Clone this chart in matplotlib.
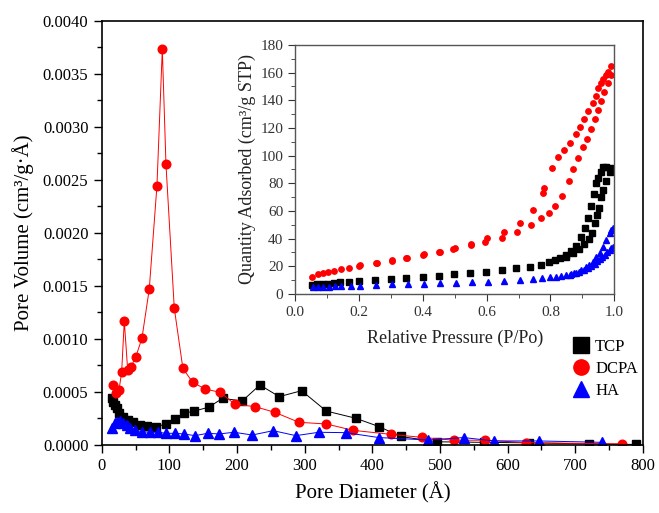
import matplotlib
matplotlib.use("Agg")
import matplotlib.pyplot as plt
from matplotlib.ticker import MultipleLocator, FormatStrFormatter

plt.rcParams['font.family'] = ['Liberation Serif', 'DejaVu Serif']
plt.rcParams['mathtext.fontset'] = 'stix'

# Pore size distribution (BJH) -- diameter in Angstrom, pore volume in cm3/g.A
tcp_d = [15.7, 17.2, 19.6, 22.0, 25.6, 32.0, 39.4, 46.7, 56.6, 66.5, 81.0, 95.0,
         109.0, 121.6, 136.8, 158.0, 178.7, 207.7, 233.8, 262.4, 295.4, 332.0,
         375.6, 410.0, 442.0, 495.0, 565.0, 632.0, 720.0, 790.0]
tcp_v = [0.00044, 0.000408, 0.00038, 0.00035, 0.0003, 0.000267, 0.000236, 0.00022,
         0.000189, 0.000179, 0.000173, 0.000198, 0.000242, 0.000299, 0.00032,
         0.000356, 0.00044, 0.000415, 0.000566, 0.000456, 0.000512, 0.00032,
         0.000252, 0.000173, 0.00008, 0.00003, 0.000025, 0.00002, 0.00001, 0.000005]

dcpa_d = [17.0, 20.7, 25.6, 29.5, 33.4, 38.4, 43.3, 50.2, 59.5, 70.3, 81.7, 89.6,
          95.0, 107.3, 120.0, 134.4, 153.0, 174.7, 197.0, 226.4, 256.0, 291.4,
          332.0, 371.7, 428.0, 472.7, 520.4, 567.0, 627.7, 769.0]
dcpa_v = [0.000566, 0.000488, 0.000519, 0.000686, 0.00117, 0.000708, 0.000739,
          0.000827, 0.001007, 0.00147, 0.002447, 0.003736, 0.002648, 0.00129,
          0.000723, 0.000591, 0.000528, 0.000497, 0.000384, 0.000362, 0.000308,
          0.000214, 0.000198, 0.000138, 0.0001, 0.000072, 0.000045, 0.000045,
          0.000022, 0.00001]

ha_d = [15.7, 19.6, 23.0, 27.0, 32.0, 37.4, 41.8, 49.0, 59.0, 71.3, 83.6, 95.0,
        108.0, 121.6, 137.8, 156.5, 173.7, 195.4, 222.5, 253.5, 287.0, 321.0,
        361.0, 409.6, 482.5, 535.0, 579.5, 646.4, 739.5]
ha_v = [0.000157, 0.000205, 0.00022, 0.000229, 0.00021, 0.00019, 0.000163,
        0.000142, 0.000126, 0.00012, 0.00012, 0.00011, 0.00011, 0.000104,
        0.000088, 0.00011, 0.000104, 0.00012, 0.000094, 0.000135, 0.000088,
        0.00012, 0.000116, 0.00007, 0.000047, 0.00007, 0.000038, 0.000038,
        0.000025]

# N2 isotherms -- relative pressure vs quantity adsorbed (cm3/g STP)
dcpa_p = [0.052, 0.073, 0.089, 0.104, 0.122, 0.143, 0.169, 0.2, 0.254, 0.303,
          0.348, 0.4, 0.452, 0.496, 0.55, 0.595, 0.647, 0.696, 0.738, 0.77,
          0.795, 0.814, 0.835, 0.859, 0.872, 0.885, 0.901, 0.913, 0.927, 0.94,
          0.948, 0.958, 0.968, 0.981, 0.99,
          0.99, 0.981, 0.974, 0.966, 0.957, 0.95, 0.942, 0.932, 0.919, 0.906,
          0.893, 0.88, 0.862, 0.843, 0.825, 0.804, 0.781, 0.778, 0.746, 0.705,
          0.655, 0.602, 0.552, 0.502, 0.455, 0.403, 0.352, 0.305, 0.257, 0.205]
dcpa_q = [12.5, 14.2, 15.0, 16.1, 16.6, 17.8, 19.0, 20.5, 22.6, 24.1, 25.8, 28.2,
          30.1, 32.3, 35.4, 37.8, 40.2, 45.0, 49.9, 54.7, 58.8, 63.6, 71.1, 81.9,
          90.2, 98.6, 106.0, 111.9, 119.3, 126.3, 133.0, 139.6, 146.3, 152.3,
          158.0,
          164.5, 160.7, 158.4, 155.2, 152.3, 148.7, 143.2, 138.3, 132.5, 126.3,
          120.5, 115.5, 109.0, 104.0, 98.8, 91.3, 76.4, 73.3, 60.7, 51.1, 45.0,
          40.2, 36.5, 33.5, 30.6, 28.8, 26.0, 24.8, 22.4, 20.9]

tcp_p = [0.052, 0.07, 0.087, 0.104, 0.122, 0.14, 0.169, 0.2, 0.25, 0.3, 0.349,
         0.4, 0.45, 0.497, 0.547, 0.598, 0.649, 0.691, 0.736, 0.77, 0.796, 0.814,
         0.83, 0.849, 0.87, 0.89, 0.905, 0.92, 0.93, 0.94, 0.945, 0.952, 0.958,
         0.965, 0.975, 0.985, 0.99,
         0.975, 0.965, 0.957, 0.948, 0.943, 0.935, 0.927, 0.918, 0.908, 0.895,
         0.88, 0.865, 0.85]
tcp_q = [6.5, 7.0, 7.5, 7.5, 8.0, 8.4, 8.7, 9.2, 9.9, 10.6, 11.6, 12.5, 13.2,
         14.2, 15.0, 15.7, 17.3, 18.6, 19.7, 21.0, 22.9, 24.6, 25.8, 27.0, 29.5,
         32.5, 36.0, 39.5, 44.0, 51.0, 57.0, 62.0, 70.0, 75.0, 82.0, 88.0, 91.0,
         92.0, 91.5, 88.0, 84.0, 80.0, 72.5, 63.5, 55.0, 47.5, 41.0, 35.0, 31.0,
         28.0]

ha_p = [0.057, 0.073, 0.089, 0.108, 0.125, 0.144, 0.174, 0.203, 0.254, 0.305,
        0.355, 0.404, 0.454, 0.505, 0.555, 0.604, 0.656, 0.705, 0.745, 0.773,
        0.8, 0.818, 0.833, 0.849, 0.865, 0.88, 0.896, 0.91, 0.922, 0.933, 0.943,
        0.954, 0.964, 0.975, 0.985, 0.99, 0.996,
        0.996, 0.99, 0.985, 0.978, 0.97, 0.962, 0.955, 0.947, 0.938, 0.928,
        0.918, 0.905, 0.89, 0.875, 0.86]
ha_q = [4.8, 4.8, 5.3, 5.3, 5.5, 5.5, 5.5, 6.0, 6.5, 7.0, 7.2, 7.5, 8.0, 8.2,
        8.4, 8.9, 9.6, 10.1, 10.8, 11.3, 12.0, 12.5, 13.0, 13.7, 14.2, 15.4,
        17.3, 19.3, 21.0, 23.4, 26.5, 29.9, 34.2, 39.0, 43.8, 46.3, 47.5,
        34.0, 33.0, 31.5, 30.0, 28.0, 26.5, 25.0, 23.5, 22.0, 20.5, 19.0, 17.5,
        16.0, 15.0, 14.0]

series_names = ["TCP", "DCPA", "HA"]
colors = {"TCP": "#000000", "DCPA": "#ff0000", "HA": "#0000ff"}
markers = {"TCP": "s", "DCPA": "o", "HA": "^"}

fig = plt.figure(figsize=(6.59, 5.13), dpi=100)
ax = fig.add_axes([0.1543, 0.1326, 0.8214, 0.8265])

psd = {"TCP": (tcp_d, tcp_v), "DCPA": (dcpa_d, dcpa_v), "HA": (ha_d, ha_v)}
sizes = {"TCP": 5.4, "DCPA": 6.2, "HA": 6.6}
for name in series_names:
    d, v = psd[name]
    ax.plot(d, v, color=colors[name], lw=0.7, marker=markers[name],
            ms=sizes[name], mec=colors[name], mfc=colors[name], label=name)

ax.set_xlim(0, 800)
ax.set_ylim(0, 0.004)
ax.xaxis.set_major_locator(MultipleLocator(100))
ax.xaxis.set_minor_locator(MultipleLocator(50))
ax.yaxis.set_major_locator(MultipleLocator(0.0005))
ax.yaxis.set_minor_locator(MultipleLocator(0.00025))
ax.yaxis.set_major_formatter(FormatStrFormatter('%.4f'))
ax.tick_params(which='both', direction='out', top=False, right=False,
               labelsize=12)
ax.tick_params(which='major', length=6, width=1)
ax.tick_params(which='minor', length=3.5, width=1)
for s in ax.spines.values():
    s.set_linewidth(1.2)
ax.set_xlabel("Pore Diameter (Å)", fontsize=15, labelpad=6)
ax.set_ylabel("Pore Volume (cm³/g·Å)", fontsize=15, labelpad=6)

ax.legend(handles=[
    plt.Line2D([], [], ls='none', marker=markers[n], color=colors[n], ms=11)
    for n in series_names], labels=series_names,
    loc='upper left', bbox_to_anchor=(0.861, 0.265), frameon=False,
    fontsize=12, handlelength=0.8, handletextpad=0.45, labelspacing=0.35,
    borderaxespad=0)

# Inset: adsorption / desorption isotherms
axi = fig.add_axes([0.4476, 0.4269, 0.4846, 0.4854])
iso = {"TCP": (tcp_p, tcp_q), "DCPA": (dcpa_p, dcpa_q), "HA": (ha_p, ha_q)}
isizes = {"TCP": 3.7, "DCPA": 3.9, "HA": 4.2}
for name in series_names:
    p, q = iso[name]
    axi.plot(p, q, ls='none', marker=markers[name], ms=isizes[name],
             mec=colors[name], mfc=colors[name])
axi.set_xlim(0, 1.0)
axi.set_ylim(0, 180)
axi.xaxis.set_major_locator(MultipleLocator(0.2))
axi.xaxis.set_minor_locator(MultipleLocator(0.1))
axi.yaxis.set_major_locator(MultipleLocator(20))
axi.yaxis.set_minor_locator(MultipleLocator(10))
axi.xaxis.set_major_formatter(FormatStrFormatter('%.1f'))
axi.tick_params(which='both', direction='out', top=False, right=False,
                labelsize=11, colors='#333333')
axi.tick_params(which='major', length=5)
axi.tick_params(which='minor', length=3)
for s in axi.spines.values():
    s.set_color('#555555')
    s.set_linewidth(1.0)
axi.set_xlabel("Relative Pressure (P/Po)", fontsize=13, labelpad=8, color='#222222')
axi.set_ylabel("Quantity Adsorbed (cm³/g STP)", fontsize=13, labelpad=3, color='#222222')

fig.savefig("out.png", dpi=100)
